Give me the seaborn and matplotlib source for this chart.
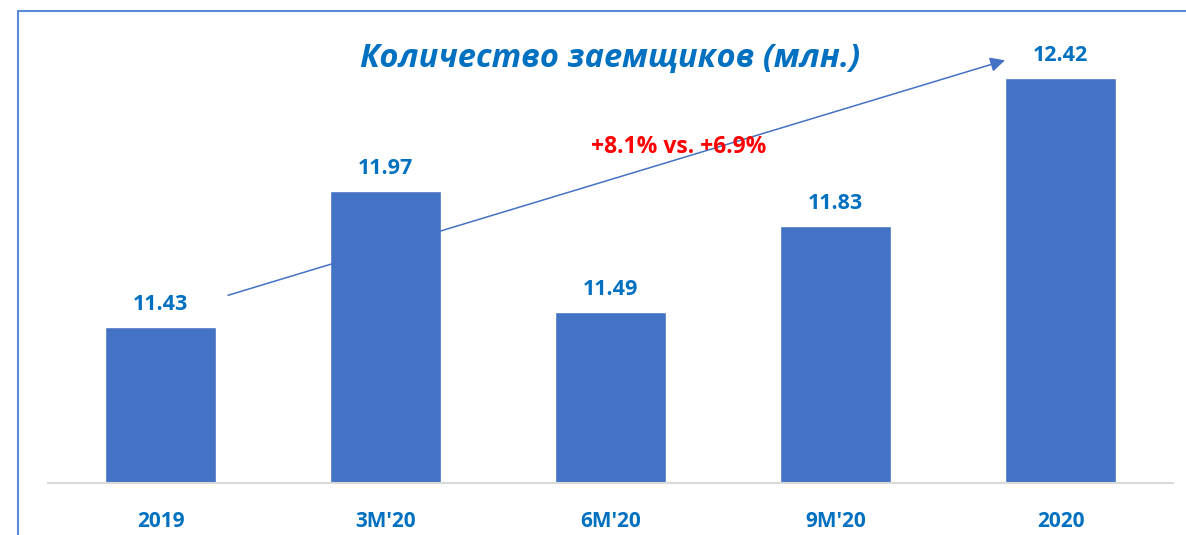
import matplotlib
matplotlib.use("Agg")
import matplotlib.pyplot as plt
import seaborn as sns
import pandas as pd
from matplotlib.lines import Line2D

# ---- Data ----
periods = ["2019", "3M'20", "6M'20", "9M'20", "2020"]
borrowers = [11.43, 11.97, 11.49, 11.83, 12.42]
title = "Количество заемщиков (млн.)"
growth_note = "+8.1% vs. +6.9%"

BAR = "#4472C4"
TXT = "#0070C0"

df = pd.DataFrame({"period": periods, "value": borrowers})

sns.set_theme(style="white")
plt.rcParams["font.family"] = ["Open Sans", "DejaVu Sans"]

fig = plt.figure(figsize=(11.86, 5.35), dpi=100)
ax = fig.add_axes([0.0405, 0.0972, 0.9486, 0.8654])

sns.barplot(data=df, x="period", y="value", color=BAR, saturation=1,
            width=0.49, ax=ax)

ax.set_ylim(10.81, 12.65)
ax.set_xlim(-0.5, 4.5)
ax.set_xlabel(""); ax.set_ylabel("")
ax.set_yticks([])
sns.despine(ax=ax, left=True, top=True, right=True)
ax.spines["bottom"].set_color("#d9d9d9")
ax.spines["bottom"].set_linewidth(1.5)
ax.tick_params(axis="x", length=0, pad=20)
for lbl in ax.get_xticklabels():
    lbl.set_fontsize(15)
    lbl.set_fontweight("bold")
    lbl.set_color(TXT)

# value labels above bars
for i, v in enumerate(borrowers):
    ax.text(i, v + 0.09, f"{v:.2f}", ha="center", va="center",
            fontsize=15.5, fontweight="bold", color=TXT)

# trend arrow
ax.annotate("", xy=(3.753, 12.49), xytext=(0.3, 11.556),
            arrowprops=dict(arrowstyle="-|>", color=BAR, lw=1.1,
                            mutation_scale=22, shrinkA=0, shrinkB=0))
ax.text(2.304, 12.144, growth_note, ha="center", va="center",
        fontsize=16.5, fontweight="bold", color="red")

fig.text(0.514, 0.89, title, ha="center", va="center", fontsize=23.5,
         fontweight="bold", fontstyle="italic", color=TXT)

# outer frame (only left and top visible)
fig.add_artist(Line2D([18 / 1186, 18 / 1186], [0, 1 - 11 / 535],
                      transform=fig.transFigure, color="#5B8BD6", lw=1.5))
fig.add_artist(Line2D([18 / 1186, 1], [1 - 11 / 535, 1 - 11 / 535],
                      transform=fig.transFigure, color="#5B8BD6", lw=1.5))

fig.savefig("out.png", dpi=100)
